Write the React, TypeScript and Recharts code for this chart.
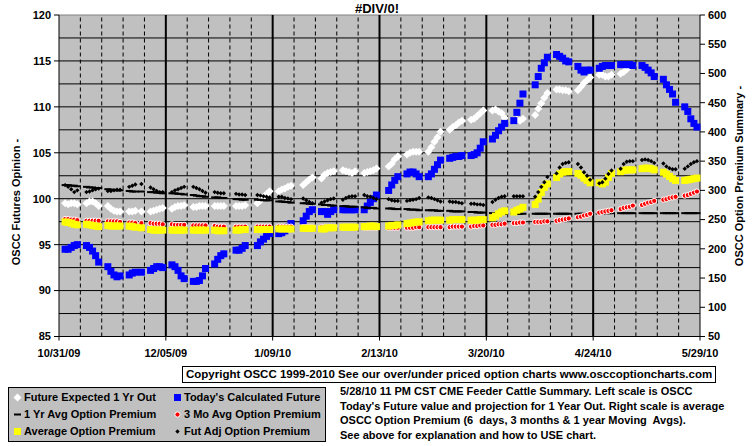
import {
  ComposedChart,
  Line,
  XAxis,
  YAxis,
  ReferenceLine,
  ReferenceArea,
} from "recharts";

const FONT = "'Liberation Sans', Arial, sans-serif";

// calendar: day 0 = 10/31/09, axis runs to 5/29/10 (day 210)
const xTickDays = [0, 35, 70, 105, 140, 175, 210];
const xTickLabels = ["10/31/09", "12/05/09", "1/09/10", "2/13/10", "3/20/10", "4/24/10", "5/29/10"];
const holidays = [26, 55, 62, 79, 107, 153];
const leftTicks = [85, 90, 95, 100, 105, 110, 115, 120];
const rightTicks = [50, 100, 150, 200, 250, 300, 350, 400, 450, 500, 550, 600];

// Future Expected 1 Yr Out (left scale), one row per week
const futureExpected = [
  [99.5, 99.4, 99.5, 99.5, 99.4],
  [99.5, 99.7, 99.7, 99.5, 99.2],
  [99.2, 98.9, 98.7, 98.6, 98.6],
  [98.6, 98.6, 98.7, 98.6],
  [98.6, 98.7, 98.8, 98.9, 99.0],
  [98.9, 99.1, 99.2, 99.2, 99.3],
  [99.1, 99.1, 99.2, 99.2, 99.2],
  [99.2, 99.2, 99.2, 99.2],
  [99.2, 99.2, 99.2, 99.3],
  [99.5, 99.8, 100.2, 100.5, 100.8],
  [100.8, 101.0, 101.1, 101.3, 101.4],
  [101.5, 101.8, 102.1, 102.3],
  [102.2, 102.6, 102.8, 102.9, 103.0],
  [103.1, 103.0, 102.9, 102.8, 103.0],
  [102.8, 102.9, 103.0, 103.1, 103.3],
  [103.5, 103.8, 104.3, 104.6],
  [104.8, 105.0, 105.1, 105.1, 105.1],
  [105.1, 105.6, 106.2, 106.7, 107.3],
  [107.5, 107.8, 108.0, 108.3, 108.5],
  [108.6, 108.7, 109.0, 109.3, 109.6],
  [109.6, 109.7, 109.5, 109.3, 108.8],
  [108.5, 108.6, 108.5, 108.7],
  [109.1, 109.8, 110.4, 111.0, 111.5],
  [111.9, 111.9, 111.8, 111.8, 111.7],
  [111.8, 112.2, 112.6, 112.9, 113.2],
  [113.5, 113.5, 113.3, 113.3, 113.5],
  [113.6, 113.8, 114.1, 114.4, 114.5],
].flat();

// Today's Calculated Future (left scale)
const calculatedFuture = [
  [94.5, 94.5, 94.7, 94.9, 95.0],
  [94.9, 94.7, 94.3, 93.8, 93.1],
  [92.6, 92.1, 91.7, 91.5, 91.6],
  [91.7, 91.9, 92.0, 92.0],
  [92.2, 92.4, 92.6, 92.6, 92.5],
  [92.8, 92.6, 92.2, 91.6, 91.3],
  [91.0, 91.0, 91.1, 91.6, 92.4],
  [92.9, 93.4, 93.8, 94.0],
  [94.4, 94.4, 94.6, 94.9],
  [94.9, 95.3, 95.6, 95.9, 96.2],
  [96.2, 96.3, 96.5, 96.9, 97.3],
  [97.6, 98.1, 98.6, 98.8],
  [98.6, 98.6, 98.3, 98.6, 98.8],
  [98.8, 98.8, 98.8, 98.8, 98.8],
  [98.8, 99.2, 99.6, 100.0, 100.4],
  [100.9, 101.5, 102.0, 102.4],
  [102.7, 102.9, 102.9, 102.7, 102.4],
  [102.4, 102.7, 103.2, 103.7, 104.2],
  [104.4, 104.5, 104.6, 104.6, 104.7],
  [104.7, 104.8, 105.0, 105.5, 106.2],
  [106.5, 106.9, 107.4, 107.8, 108.2],
  [108.5, 109.4, 110.4, 111.4],
  [112.4, 113.3, 114.2, 114.8, 115.4],
  [115.7, 115.5, 115.3, 115.0, 114.9],
  [114.4, 114.0, 113.8, 114.0, 114.0],
  [114.2, 114.4, 114.5, 114.5, 114.5],
  [114.6, 114.6, 114.6, 114.6, 114.5],
  [114.5, 114.3, 114.0, 113.7, 113.3],
  [113.0, 112.4, 111.9, 111.4, 110.5],
  [110.0, 109.5, 108.7, 108.2, 107.8],
].flat();

// 1 Yr Avg Option Premium (right scale)
const oneYearAvg = [
  [309, 309, 308, 308, 307],
  [306, 305, 305, 304, 304],
  [302, 301, 301, 300, 300],
  [299, 298, 298, 298],
  [297, 297, 296, 296, 295],
  [295, 295, 294, 294, 293],
  [292, 291, 290, 290, 289],
  [288, 288, 287, 287],
  [285, 285, 284, 284],
  [284, 284, 283, 283, 283],
  [281, 281, 280, 280, 279],
  [278, 278, 277, 277],
  [276, 275, 275, 274, 274],
  [273, 273, 272, 272, 272],
  [271, 270, 270, 270, 269],
  [269, 269, 268, 268],
  [268, 267, 267, 267, 266],
  [266, 266, 266, 265, 265],
  [265, 264, 264, 264, 264],
  [263, 263, 262, 262, 262],
  [261, 261, 261, 260, 260],
  [260, 260, 260, 260],
  [260, 260, 260, 260, 260],
  [260, 260, 260, 260, 260],
  [260, 260, 260, 260, 260],
  [260, 260, 261, 261, 261],
  [261, 261, 261, 261, 261],
  [261, 261, 261, 261, 261],
  [261, 261, 261, 261, 261],
  [261, 261, 261, 261, 261],
].flat();

// 3 Mo Avg Option Premium (right scale)
const threeMonthAvg = [
  [251, 251, 250, 250, 249],
  [248, 248, 248, 248, 248],
  [247, 247, 247, 247, 246],
  [245, 245, 244, 244],
  [244, 243, 243, 243, 242],
  [242, 241, 241, 241, 241],
  [240, 240, 240, 240, 240],
  [239, 238, 238, 238],
  [238, 238, 238, 238],
  [238, 238, 238, 238, 238],
  [238, 238, 238, 238, 238],
  [237, 237, 237, 237],
  [237, 237, 237, 237, 237],
  [236, 236, 236, 236, 236],
  [236, 236, 236, 236, 236],
  [236, 236, 236, 236],
  [236, 236, 236, 237, 237],
  [237, 237, 237, 237, 237],
  [237, 238, 238, 238, 238],
  [238, 239, 239, 240, 240],
  [241, 241, 242, 242, 243],
  [244, 244, 245, 245],
  [246, 246, 246, 247, 247],
  [248, 249, 250, 251, 252],
  [254, 255, 257, 258, 260],
  [262, 263, 264, 265, 266],
  [268, 270, 271, 272, 274],
  [275, 277, 279, 280, 282],
  [284, 285, 287, 288, 289],
  [291, 292, 294, 296, 298],
].flat();

// Average Option Premium (right scale)
const avgPremium = [
  [246, 245, 244, 242, 241],
  [242, 241, 240, 239, 238],
  [240, 239, 239, 239, 239],
  [239, 238, 237, 236],
  [233, 232, 232, 232, 232],
  [232, 232, 232, 232, 232],
  [232, 232, 232, 232, 232],
  [232, 231, 231, 231],
  [232, 232, 233, 233],
  [233, 233, 233, 233, 233],
  [234, 234, 234, 234, 234],
  [235, 235, 235, 235],
  [234, 234, 236, 236, 236],
  [237, 237, 237, 237, 237],
  [238, 238, 239, 239, 238],
  [239, 240, 240, 241],
  [243, 244, 245, 246, 246],
  [248, 249, 249, 249, 249],
  [249, 250, 250, 250, 250],
  [249, 249, 249, 250, 250],
  [253, 256, 260, 263, 265],
  [263, 266, 268, 271],
  [276, 285, 296, 305, 311],
  [322, 328, 331, 332, 332],
  [329, 326, 321, 317, 313],
  [313, 311, 314, 322, 329],
  [332, 334, 335, 335, 335],
  [337, 338, 338, 337, 335],
  [331, 328, 324, 320, 317],
  [317, 318, 319, 320, 321],
].flat();

// Fut Adj Option Premium (right scale)
const futAdjPremium = [
  [309, 306, 302, 297, 300],
  [297, 298, 300, 302, 303],
  [299, 299, 300, 301, 301],
  [306, 308, 310, 311],
  [305, 302, 299, 297, 297],
  [297, 300, 302, 304, 306],
  [306, 304, 302, 299, 296],
  [297, 296, 295, 295],
  [294, 293, 293, 292],
  [292, 291, 290, 289, 288],
  [289, 289, 287, 286, 285],
  [286, 283, 280, 278],
  [279, 281, 283, 285, 286],
  [284, 287, 289, 290, 290],
  [292, 290, 289, 287, 285],
  [285, 283, 282, 282],
  [282, 283, 284, 285, 287],
  [288, 287, 285, 283, 281],
  [281, 280, 280, 279, 278],
  [277, 277, 276, 276, 275],
  [280, 284, 287, 289, 290],
  [290, 290, 290, 290],
  [289, 297, 306, 314, 323],
  [329, 339, 345, 347, 348],
  [345, 339, 331, 325, 318],
  [312, 314, 320, 328, 334],
  [337, 345, 349, 350, 350],
  [352, 353, 352, 350, 347],
  [346, 341, 338, 336, 336],
  [337, 341, 345, 348, 350],
].flat();

// trading days (Mon-Fri, weeks starting 11/02/09), minus exchange holidays
const tradingDays: number[] = [];
for (let w = 0; w < 30; w++) {
  for (let d = 0; d < 5; d++) {
    const day = 2 + 7 * w + d;
    if (!holidays.includes(day)) tradingDays.push(day);
  }
}

const chartData = tradingDays.map((day, i) => ({
  day,
  futureExpected: futureExpected[i] ?? null,
  calculatedFuture: calculatedFuture[i] ?? null,
  oneYearAvg: oneYearAvg[i] ?? null,
  threeMonthAvg: threeMonthAvg[i] ?? null,
  avgPremium: avgPremium[i] ?? null,
  futAdjPremium: futAdjPremium[i] ?? null,
}));

const weekLines: number[] = [];
for (let d = 7; d < 210; d += 7) weekLines.push(d);
const hLines: number[] = [];
for (let v = 87.5; v < 120; v += 2.5) hLines.push(v);

type Shape = "diamond" | "square" | "circle" | "dash" | "dot";

function marker(shape: Shape, color: string) {
  return (props: any) => {
    const { cx, cy, index } = props;
    const key = `${shape}-${color}-${index}`;
    if (cx == null || cy == null || props.value == null) return <g key={key} />;
    if (shape === "diamond")
      return <polygon key={key} points={`${cx},${cy - 4} ${cx + 4},${cy} ${cx},${cy + 4} ${cx - 4},${cy}`} fill={color} />;
    if (shape === "square")
      return <rect key={key} x={cx - 3.5} y={cy - 3.5} width={7} height={7} fill={color} />;
    if (shape === "circle")
      return <circle key={key} cx={cx} cy={cy} r={2.6} fill={color} stroke="#fff" strokeWidth={1} />;
    if (shape === "dash")
      return <rect key={key} x={cx - 3.5} y={cy - 1} width={7} height={2} fill={color} />;
    return <polygon key={key} points={`${cx},${cy - 2.2} ${cx + 2.2},${cy} ${cx},${cy + 2.2} ${cx - 2.2},${cy}`} fill={color} />;
  };
}

function LegendIcon({ shape, color }: { shape: Shape; color: string }) {
  return (
    <svg width={9} height={9} style={{ position: "absolute", left: -5, top: -4.5 }}>
      {marker(shape, color)({ cx: 4.5, cy: 4.5, index: 0, value: 1 })}
    </svg>
  );
}

const legendItems: { label: string; shape: Shape; color: string; x: number; y: number }[] = [
  { label: "Future Expected 1 Yr Out", shape: "diamond", color: "#ffffff", x: 9, y: 9 },
  { label: "Today's Calculated Future", shape: "square", color: "#0000ff", x: 169, y: 9 },
  { label: "1 Yr Avg Option Premium", shape: "dash", color: "#000000", x: 9, y: 26 },
  { label: "3 Mo Avg Option Premium", shape: "circle", color: "#ff0000", x: 169, y: 26 },
  { label: "Average Option Premium", shape: "square", color: "#ffff00", x: 9, y: 43 },
  { label: "Fut Adj Option Premium", shape: "dot", color: "#000000", x: 169, y: 43 },
];

const noteLines = [
  "5/28/10 11 PM CST CME Feeder Cattle Summary. Left scale is OSCC",
  "Today's Future value and projection for 1 Year Out. Right scale is average",
  "OSCC Option Premium (6  days, 3 months & 1 year Moving  Avgs).",
  "See above for explanation and how to USE chart.",
];

const tickStyle = { fill: "#000", fontSize: 11, fontWeight: "bold", fontFamily: FONT };

export default function App() {
  return (
    <div style={{ position: "absolute", left: 0, top: 0, width: 755, height: 446, background: "#fff", fontFamily: FONT }}>
      <ComposedChart
        width={755}
        height={446}
        data={chartData}
        margin={{ top: 15, right: 0, bottom: 84.5, left: 0 }}
      >
        <XAxis
          type="number"
          dataKey="day"
          domain={[0, 210]}
          ticks={xTickDays}
          tickFormatter={(d: number) => xTickLabels[xTickDays.indexOf(d)]}
          height={25}
          tickSize={4}
          tickMargin={9}
          axisLine={{ stroke: "#000" }}
          tickLine={{ stroke: "#000" }}
          tick={tickStyle}
          interval={0}
        />
        <YAxis
          yAxisId="left"
          orientation="left"
          domain={[85, 120]}
          ticks={leftTicks}
          width={59}
          tickSize={5}
          tickMargin={3}
          axisLine={{ stroke: "#000" }}
          tickLine={{ stroke: "#000" }}
          tick={tickStyle}
          interval={0}
        />
        <YAxis
          yAxisId="right"
          orientation="right"
          domain={[50, 600]}
          ticks={rightTicks}
          width={55}
          tickSize={5}
          tickMargin={3}
          axisLine={{ stroke: "#000" }}
          tickLine={{ stroke: "#000" }}
          tick={tickStyle}
          interval={0}
        />
        <ReferenceArea yAxisId="left" x1={0} x2={210} y1={85} y2={120} fill="#c0c0c0" fillOpacity={1} stroke="none" />
        {hLines.map((v) => (
          <ReferenceLine key={`h${v}`} yAxisId="left" y={v} stroke="#000" strokeWidth={1} />
        ))}
        <ReferenceLine yAxisId="left" y={120} stroke="#808080" strokeWidth={1} />
        {weekLines.map((d) =>
          d % 35 === 0 ? (
            <ReferenceLine key={`v${d}`} yAxisId="left" x={d} stroke="#000" strokeWidth={2} />
          ) : (
            <ReferenceLine key={`v${d}`} yAxisId="left" x={d} stroke="#000" strokeWidth={1} strokeDasharray="4 3" />
          ),
        )}
        <Line yAxisId="left" dataKey="futureExpected" stroke="none" dot={marker("diamond", "#ffffff")} activeDot={false} isAnimationActive={false} />
        <Line yAxisId="left" dataKey="calculatedFuture" stroke="none" dot={marker("square", "#0000ff")} activeDot={false} isAnimationActive={false} />
        <Line yAxisId="right" dataKey="oneYearAvg" stroke="none" dot={marker("dash", "#000000")} activeDot={false} isAnimationActive={false} />
        <Line yAxisId="right" dataKey="threeMonthAvg" stroke="none" dot={marker("circle", "#ff0000")} activeDot={false} isAnimationActive={false} />
        <Line yAxisId="right" dataKey="avgPremium" stroke="none" dot={marker("square", "#ffff00")} activeDot={false} isAnimationActive={false} />
        <Line yAxisId="right" dataKey="futAdjPremium" stroke="none" dot={marker("dot", "#000000")} activeDot={false} isAnimationActive={false} />
      </ComposedChart>

      {/* title */}
      <div style={{ position: "absolute", left: 377, top: 8, transform: "translate(-50%, -50%)", fontSize: 13, fontWeight: "bold", whiteSpace: "nowrap" }}>
        #DIV/0!
      </div>
      {/* axis titles */}
      <div style={{ position: "absolute", left: 15.5, top: 202, transform: "translate(-50%, -50%) rotate(-90deg)", fontSize: 11, fontWeight: "bold", whiteSpace: "nowrap" }}>
        OSCC Futures Opinion -
      </div>
      <div style={{ position: "absolute", left: 739, top: 176, transform: "translate(-50%, -50%) rotate(-90deg)", fontSize: 11, fontWeight: "bold", whiteSpace: "nowrap" }}>
        OSCC Option Premium Summary -
      </div>

      {/* copyright box */}
      <div style={{ position: "absolute", left: 182, top: 366, width: 529, height: 15, border: "1px solid #000", background: "#fff", fontSize: 11.5, fontWeight: "bold", lineHeight: "15px", whiteSpace: "nowrap", paddingLeft: 3, boxSizing: "content-box" }}>
        Copyright OSCC 1999-2010 See our over/under priced option charts www.osccoptioncharts.com
      </div>

      {/* legend */}
      <div style={{ position: "absolute", left: 8, top: 387, width: 316, height: 53, border: "1px solid #000", background: "#c0c0c0" }}>
        {legendItems.map((it) => (
          <div key={it.label} style={{ position: "absolute", left: it.x, top: it.y }}>
            <LegendIcon shape={it.shape} color={it.color} />
            <div style={{ position: "absolute", left: 6, top: -7, fontSize: 11, fontWeight: "bold", lineHeight: "14px", whiteSpace: "nowrap" }}>
              {it.label}
            </div>
          </div>
        ))}
      </div>

      {/* notes */}
      <div style={{ position: "absolute", left: 340, top: 384, fontSize: 11, fontWeight: "bold", lineHeight: "14.5px", whiteSpace: "pre" }}>
        {noteLines.map((l) => (
          <div key={l}>{l}</div>
        ))}
      </div>
    </div>
  );
}
